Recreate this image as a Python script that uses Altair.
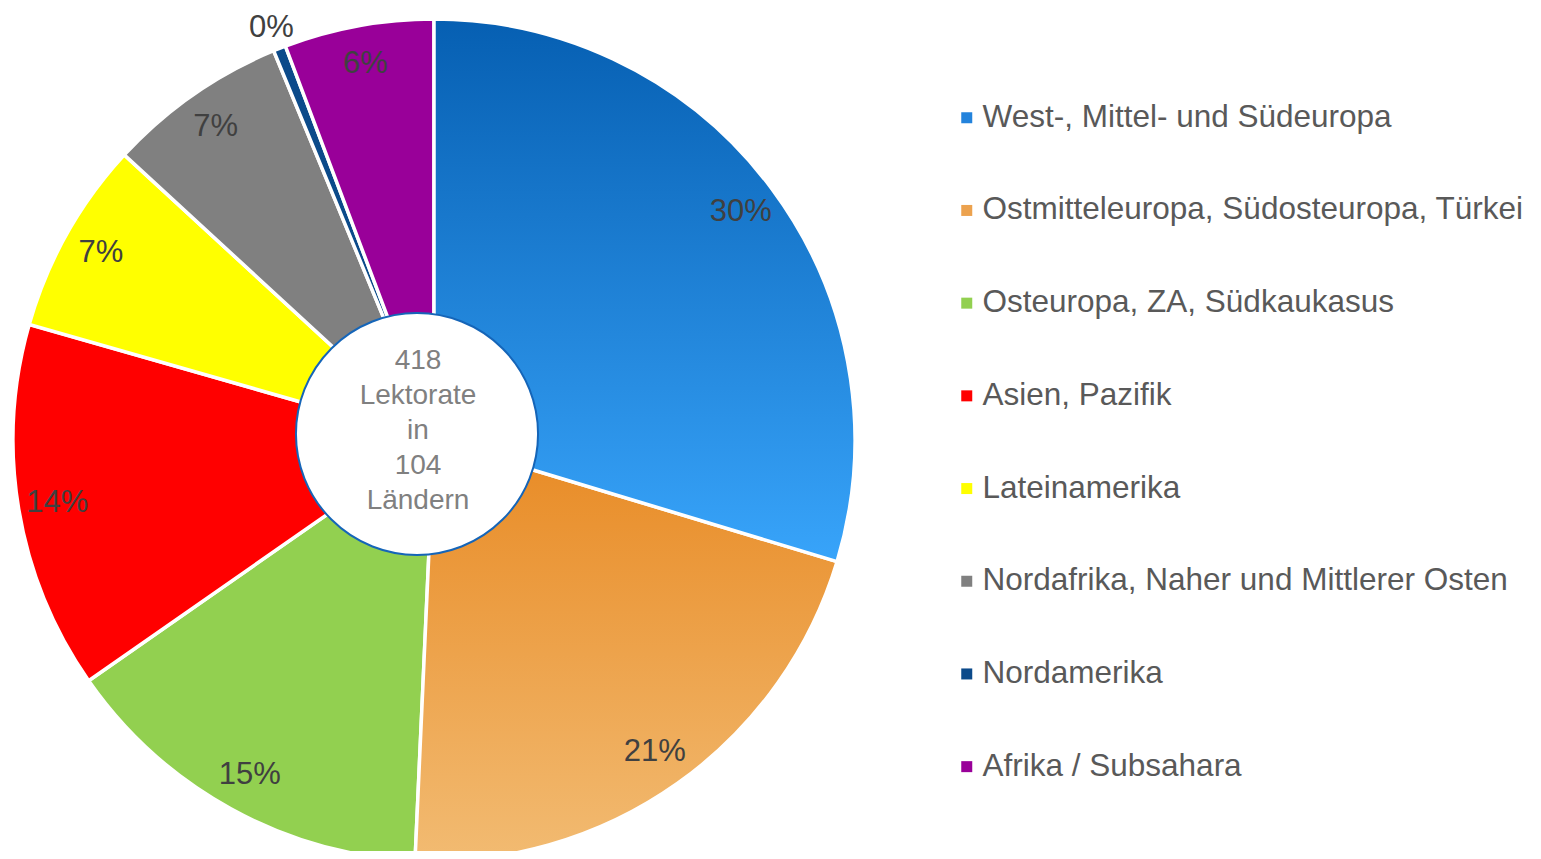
import altair as alt
import pandas as pd

regions = [
    "West-, Mittel- und Südeuropa",
    "Ostmitteleuropa, Südosteuropa, Türkei",
    "Osteuropa, ZA, Südkaukasus",
    "Asien, Pazifik",
    "Lateinamerika",
    "Nordafrika, Naher und Mittlerer Osten",
    "Nordamerika",
    "Afrika / Subsahara",
]
counts = [124, 88, 61, 59, 31, 29, 2, 24]
colors = ["#2383dc", "#eca24e", "#92d050", "#ff0000", "#ffff00", "#808080", "#0b4a8a", "#990099"]
center_lines = ["418", "Lektorate", "in", "104", "Ländern"]

df = pd.DataFrame({"region": regions, "count": counts, "idx": list(range(len(regions)))})

CX, CY, R = 426, 432, 421

blue_grad = {"gradient": "linear", "x1": 0, "y1": 0, "x2": 0, "y2": 1,
             "stops": [{"offset": 0, "color": "#065fb2"}, {"offset": 1, "color": "#38a4fa"}]}
orange_grad = {"gradient": "linear", "x1": 0, "y1": 0, "x2": 0, "y2": 1,
               "stops": [{"offset": 0, "color": "#e88a24"}, {"offset": 1, "color": "#f2bb72"}]}

base = alt.Chart(df).encode(
    theta=alt.Theta("count:Q", stack=True),
    order=alt.Order("idx:Q"),
)

pie = base.mark_arc(radius=R, stroke="white", strokeWidth=3.5).encode(
    x=alt.value(CX), y=alt.value(CY),
    color=alt.Color(
        "region:N",
        scale=alt.Scale(domain=regions, range=colors),
        sort=regions,
        legend=alt.Legend(
            title=None, orient="none", legendX=943, legendY=94,
            symbolType="square", symbolSize=121, symbolStrokeWidth=0,
            labelFont="Liberation Sans", labelFontSize=31.5, labelColor="#595959",
            labelOffset=0, rowPadding=59.7, padding=0, labelLimit=700,
        ),
    ),
)

grad = base.mark_arc(radius=R, stroke="white", strokeWidth=3.5).encode(
    x=alt.value(CX), y=alt.value(CY),
    fill=alt.condition(f"datum.region == '{regions[0]}'", alt.value(blue_grad),
                       alt.value("transparent")),
    opacity=alt.condition(f"datum.region == '{regions[0]}'", alt.value(1), alt.value(0)),
)
grad2 = base.mark_arc(radius=R, stroke="white", strokeWidth=3.5).encode(
    x=alt.value(CX), y=alt.value(CY),
    fill=alt.condition(f"datum.region == '{regions[1]}'", alt.value(orange_grad),
                       alt.value("transparent")),
    opacity=alt.condition(f"datum.region == '{regions[1]}'", alt.value(1), alt.value(0)),
)

labels = alt.Chart(df).transform_joinaggregate(
    total="sum(count)"
).transform_window(
    cum="sum(count)", sort=[alt.SortField("idx")], frame=[None, 0]
).transform_calculate(
    pct="round(datum.count / datum.total * 100) + '%'",
    lr="datum.region == 'Nordamerika' ? 443 : 382",
    ang="(datum.cum - datum.count / 2) / datum.total * 2 * PI",
).transform_calculate(
    lx=f"{CX} + datum.lr * sin(datum.ang)",
    ly=f"{CY} - datum.lr * cos(datum.ang)",
).mark_text(font="Liberation Sans", fontSize=31, color="#404040",
            align="center", baseline="middle").encode(
    x=alt.X("lx:Q", scale=None),
    y=alt.Y("ly:Q", scale=None),
    text="pct:N",
)

hole = alt.Chart(pd.DataFrame({"v": [1]})).mark_arc(
    radius=121, theta=0, theta2=6.2832, fill="white", stroke="#1565b8", strokeWidth=2
).encode(
    x=alt.value(409), y=alt.value(426),
)

center_text = alt.Chart(pd.DataFrame({"t": ["\n".join(center_lines)]})).mark_text(
    font="Liberation Sans", fontSize=28, color="#808080", lineBreak="\n",
    lineHeight=35, align="center", baseline="middle"
).encode(
    text="t:N", x=alt.value(410), y=alt.value(353),
)

chart = alt.layer(pie, grad2, grad, labels, hole, center_text).properties(
    width=1525, height=843, autosize="none", padding=0
).configure_view(stroke=None)

chart.save("out.html", embed_options={"renderer": "svg", "actions": False})
